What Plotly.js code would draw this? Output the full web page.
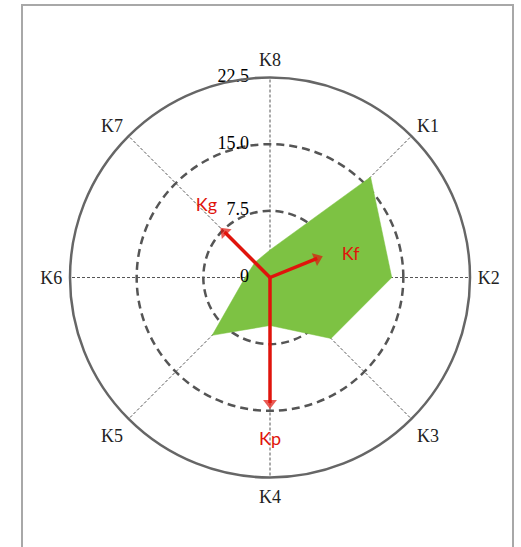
<!DOCTYPE html>
<html>
<head>
<meta charset="utf-8">
<script src="https://cdn.plot.ly/plotly-3.0.1.min.js"></script>
<style>
  html, body { margin: 0; padding: 0; background: #ffffff; }
  #frame { position: absolute; left: 21px; top: 4px; width: 493px; height: 600px; border: 2px solid #a8a8a8; box-sizing: border-box; }
  #chart { position: absolute; left: 0; top: 0; width: 521px; height: 547px; }
</style>
</head>
<body>
<div id="frame"></div>
<div id="chart"></div>
<script>
// Directions (compass degrees, clockwise from K8 at top)
const categories = ['K1', 'K2', 'K3', 'K4', 'K5', 'K6', 'K7', 'K8'];
const categoryAngles = [45, 90, 135, 180, 225, 270, 315, 360];
// Green polygon values
const areaValues = [16.0, 13.7, 9.7, 5.4, 9.2, 2.8, 2.4, 3.1];
// Radial ticks
const radialTicks = [0, 7.5, 15, 22.5];
const radialTickText = ['0', '7.5', '15.0', '22.5'];
// Vectors
const vectorNames = ['Kg', 'Kf', 'Kp'];
const vectorLengths = [7.9, 6.4, 14.8];
const vectorAngles = [315, 68, 180];
// Vector label placement
const vectorLabelR = [10.7, 9.4, 18.3];
const vectorLabelAngles = [318, 75, 180];

const RED = '#e0140c';
const GREEN = '#7dc243';
const SERIF = '"Liberation Serif", "DejaVu Serif", serif';

const traces = [];
traces.push({
  type: 'scatterpolar',
  r: areaValues.concat([areaValues[0]]),
  theta: categoryAngles.concat([categoryAngles[0]]),
  mode: 'lines',
  fill: 'toself',
  fillcolor: GREEN,
  line: { color: GREEN, width: 0.5 },
  hoverinfo: 'skip',
  showlegend: false
});
vectorNames.forEach((n, i) => {
  traces.push({
    type: 'scatterpolar',
    r: [0, vectorLengths[i]],
    theta: [vectorAngles[i], vectorAngles[i]],
    mode: 'lines+markers',
    line: { color: RED, width: 3.5 },
    marker: { symbol: 'triangle-up', size: [0, 12], color: RED, angleref: 'previous', standoff: 6, line: { width: 0 } },
    name: n,
    showlegend: false
  });
});
traces.push({
  type: 'scatterpolar',
  r: vectorLabelR,
  theta: vectorLabelAngles,
  mode: 'text',
  text: vectorNames,
  textfont: { family: 'Lato, "Open Sans", sans-serif', size: 18, color: RED },
  hoverinfo: 'skip',
  showlegend: false
});
// Radial tick labels (right-aligned, left of the vertical axis)
traces.push({
  type: 'scatterpolar',
  r: radialTicks,
  theta: radialTicks.map(() => 0),
  mode: 'markers+text',
  text: radialTickText,
  textposition: 'middle left',
  marker: { size: 32, opacity: 0 },
  textfont: { family: SERIF, size: 18, color: '#000' },
  hoverinfo: 'skip',
  showlegend: false,
  cliponaxis: false
});

const layout = {
  width: 521, height: 547,
  margin: { l: 0, r: 0, t: 0, b: 0 },
  paper_bgcolor: 'rgba(0,0,0,0)',
  plot_bgcolor: 'rgba(0,0,0,0)',
  showlegend: false,
  polar: {
    domain: { x: [70 / 521, 470 / 521], y: [69.5 / 547, 469.5 / 547] },
    bgcolor: 'rgba(0,0,0,0)',
    angularaxis: {
      type: 'linear',
      thetaunit: 'degrees',
      direction: 'clockwise',
      rotation: 90,
      tickvals: categoryAngles,
      ticktext: categories,
      tickfont: { family: SERIF, size: 18, color: '#222' },
      ticks: 'outside', ticklen: 3, tickcolor: 'rgba(0,0,0,0)',
      showline: true, linecolor: '#666', linewidth: 2.5,
      showgrid: true, gridcolor: '#555', gridwidth: 1, griddash: '3px,2px',
      layer: 'above traces'
    },
    radialaxis: {
      range: [0, 22.5],
      angle: 90,
      tickvals: radialTicks,
      showticklabels: false,
      ticks: '',
      showline: false,
      showgrid: true, gridcolor: '#555', gridwidth: 2.5, griddash: '8px,5px',
      layer: 'above traces'
    }
  }
};

Plotly.newPlot('chart', traces, layout, { staticPlot: true, displayModeBar: false });
</script>
</body>
</html>
